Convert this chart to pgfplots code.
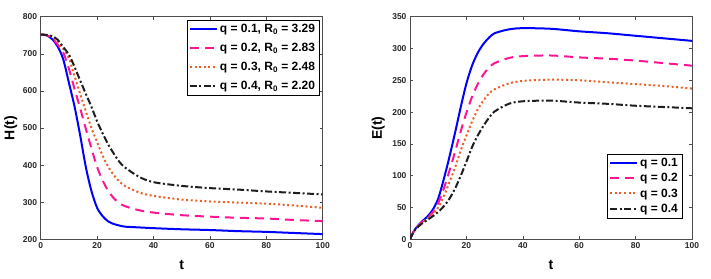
\documentclass[border=0pt]{standalone}
\usepackage{fontspec}
\setmainfont{Liberation Sans}
\usepackage{pgfplots}
\pgfplotsset{compat=1.18}
\definecolor{mblue}{RGB}{0,0,255}
\definecolor{mpink}{RGB}{255,20,147}
\definecolor{morange}{RGB}{235,95,35}
\definecolor{mblack}{RGB}{30,30,30}
\pgfplotsset{
  sA/.style={mblue, line width=2pt, solid},
  sB/.style={mpink, line width=2pt, dash pattern=on 9pt off 6pt},
  sC/.style={morange, line width=2pt, dash pattern=on 2pt off 2.6pt},
  sD/.style={mblack, line width=2pt, dash pattern=on 7pt off 2.5pt on 2pt off 2.5pt},
  myax/.style={
    scale only axis, width=282pt, height=222.6pt,
    xmin=0, xmax=100, xtick={0,20,...,100},
    tick align=inside, major tick length=3pt,
    axis line style={black!70, line width=0.5pt},
    tick style={black!70, line width=0.5pt},
    /pgf/number format/assume math mode=true,
    tick label style={font=\fontsize{8.5}{9}\selectfont\bfseries, text=black!85},
    label style={font=\fontsize{14}{15}\selectfont\bfseries},
    xlabel={t},
    xlabel style={at={(axis description cs:0.5,-0.117)}, anchor=center},
    legend style={draw=black, font=\fontsize{12}{13}\selectfont\bfseries, inner xsep=2pt, inner ysep=2pt},
    legend cell align=left,
    legend image code/.code={\draw[##1, line width=2pt] (0pt,0.3pt) -- (27pt,0.3pt);},
  },
}
\begin{document}
\begin{tikzpicture}
\useasboundingbox (-40.7pt,-38.7pt) rectangle (670.3pt,239.3pt);
\begin{axis}[myax, ymin=200, ymax=800, ytick={200,300,...,800}, ylabel={H(t)},
  ylabel style={at={(axis description cs:-0.106,0.5)}, anchor=center},
  legend style={at={(1,1)}, anchor=north east, xshift=-3.5pt, yshift=-3.5pt, row sep=5pt}]
\addplot[sA, smooth] coordinates {(0,752)(2,750)(4,740)(6,720)(8,685)(10,622)(12,558)(14,480)(16,395)(18,330)(20,285)(22,262)(24,248)(26,241)(28,237)(30,234)(35,232)(40,230)(50,227)(60,225)(70,222)(80,220)(90,217)(100,214)};
\addplot[sB, smooth] coordinates {(0,752)(2,750)(4,742)(6,725)(8,703)(10,660)(12,605)(14,553)(16,498)(18,445)(20,395)(22,358)(24,330)(26,310)(28,297)(30,289)(35,278)(40,272)(50,265)(60,261)(70,258)(80,256)(90,252)(100,249)};
\addplot[sC, smooth] coordinates {(0,752)(2,751)(4,746)(6,733)(8,713)(10,688)(12,640)(14,592)(16,545)(18,500)(20,462)(22,425)(24,395)(26,372)(28,355)(30,343)(35,326)(40,317)(50,307)(60,302)(70,299)(80,296)(90,291)(100,285)};
\addplot[sD, smooth] coordinates {(0,752)(2,751)(4,748)(6,738)(8,718)(10,698)(12,665)(14,628)(16,592)(18,557)(20,518)(22,485)(24,455)(26,430)(28,408)(30,393)(35,368)(40,354)(50,344)(60,338)(70,334)(80,329)(90,325)(100,321)};
\legend{q = 0.1{,} R\textsubscript{0} = 3.29, q = 0.2{,} R\textsubscript{0} = 2.83, q = 0.3{,} R\textsubscript{0} = 2.48, q = 0.4{,} R\textsubscript{0} = 2.20}
\end{axis}
\begin{axis}[myax, at={(369.3pt,0pt)}, ymin=0, ymax=350, ytick={0,50,...,350}, ylabel={E(t)},
  ylabel style={at={(axis description cs:-0.113,0.5)}, anchor=center},
  legend style={at={(1,0)}, anchor=south east, xshift=-10pt, yshift=21pt, row sep=1.5pt}]
\addplot[sA, smooth] coordinates {(0,0)(1,10)(2,17)(4,27)(6,35)(8,46)(10,64)(12,95)(14,130)(16,168)(18,208)(20,245)(22,273)(24,293)(26,307)(28,317)(30,324)(35,330)(40,332)(50,331)(60,327)(70,324)(80,320)(90,316)(100,312)};
\addplot[sB, smooth] coordinates {(0,0)(1,10)(2,17)(4,26)(6,33)(8,42)(10,57)(12,80)(14,108)(16,138)(18,170)(20,199)(22,224)(24,244)(26,259)(28,270)(30,277)(35,285)(40,288)(50,289)(60,286)(70,284)(80,281)(90,277)(100,273)};
\addplot[sC, smooth] coordinates {(0,0)(1,10)(2,17)(4,25)(6,32)(8,40)(10,50)(12,68)(14,90)(16,113)(18,140)(20,163)(22,185)(24,204)(26,218)(28,229)(30,236)(35,245)(40,249)(50,251)(60,250)(70,247)(80,244)(90,241)(100,237)};
\addplot[sD, smooth] coordinates {(0,0)(1,9)(2,16)(4,24)(6,30)(8,36)(10,43)(12,52)(14,64)(16,80)(18,100)(20,122)(22,145)(24,163)(26,178)(28,191)(30,201)(35,213)(40,217)(50,218)(60,215)(70,213)(80,210)(90,208)(100,206)};
\legend{q = 0.1, q = 0.2, q = 0.3, q = 0.4}
\end{axis}
\end{tikzpicture}
\end{document}
